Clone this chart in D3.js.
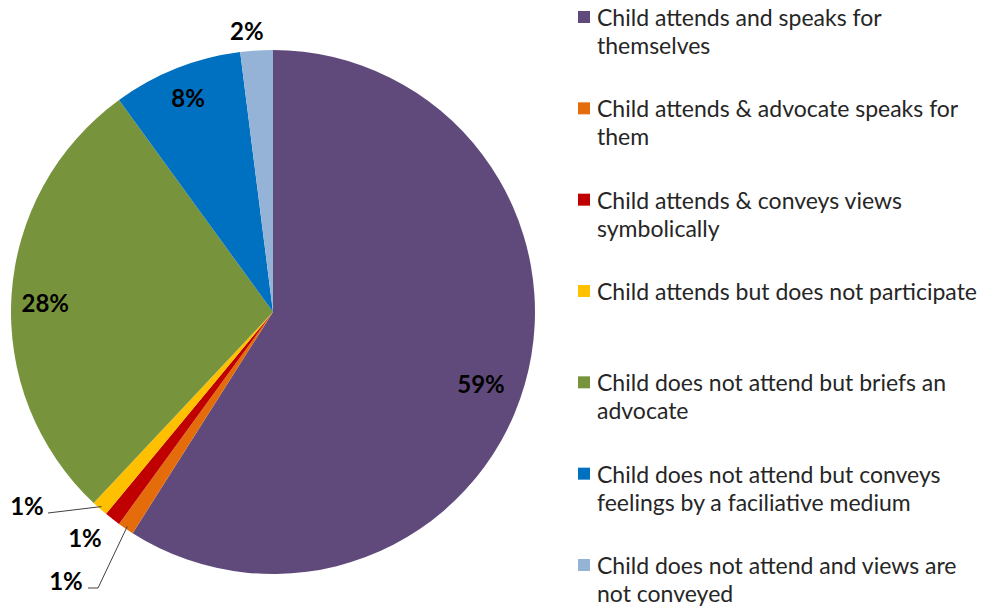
<!DOCTYPE html>
<html>
<head>
<meta charset="utf-8">
<script src="https://cdn.jsdelivr.net/npm/d3@7"></script>
<style>
  html, body { margin: 0; padding: 0; background: #fff; }
  svg { display: block; font-family: Lato, "Open Sans", sans-serif; }
</style>
</head>
<body>
<svg id="chart" width="984" height="607"></svg>
<script>
// Categories, shares (%) and slice colours
const categories = [
  ["Child attends and speaks for", "themselves"],
  ["Child attends & advocate speaks for", "them"],
  ["Child attends & conveys views", "symbolically"],
  ["Child attends but does not participate"],
  ["Child does not attend but briefs an", "advocate"],
  ["Child does not attend but conveys", "feelings by a faciliative medium"],
  ["Child does not attend and views are", "not conveyed"]
];
const shares = [59, 1, 1, 1, 28, 8, 2];
const colors = ["#604A7B", "#E46C0A", "#C00000", "#FFC000", "#77933C", "#0070C0", "#95B3D7"];

const svg = d3.select("#chart");
const cx = 273, cy = 312, R = 262;

const data = shares.map((v, i) => ({ i, value: v, label: categories[i], color: colors[i] }));
const pie = d3.pie().value(d => d.value).sort(null);
const arcs = pie(data);
const arc = d3.arc().innerRadius(0).outerRadius(R);

const g = svg.append("g").attr("transform", `translate(${cx},${cy})`);

g.selectAll("path.slice")
  .data(arcs)
  .join("path")
  .attr("class", "slice")
  .attr("d", arc)
  .attr("fill", d => d.data.color);

// point at a given radius along an angle (d3 angles: 0 = 12 o'clock, clockwise)
const polar = (a, r) => [Math.sin(a) * r, -Math.cos(a) * r];
const mid = d => (d.startAngle + d.endAngle) / 2;
const fmt = d => d.data.value + "%";

// Label placement: inside for large slices, outside for the small ones
const labelPos = [
  d => polar(mid(d) + 0.05, R * 0.84),           // 59%
  d => [-207, 268],                               // 1% orange (bottom)
  d => [-188, 225],                               // 1% red
  d => [-246, 193],                               // 1% yellow (top)
  d => polar(mid(d) - 0.02, R * 0.87),            // 28%
  d => polar(mid(d), R * 0.88),                   // 8%
  d => polar(mid(d) - 0.03, R * 1.08)             // 2%
];

// leader lines for the thin slices
const leaders = [
  { i: 3, pts: d => [[-225, 201], polar(mid(d), R * 0.99)] },
  { i: 1, pts: d => [[-185, 276], [-175, 276], polar(mid(d), R * 0.99)] }
];
leaders.forEach(l => {
  const d = arcs[l.i];
  g.append("path")
    .attr("d", d3.line()(l.pts(d)))
    .attr("fill", "none")
    .attr("stroke", "#404040")
    .attr("stroke-width", 1);
});

g.selectAll("text.pct")
  .data(arcs)
  .join("text")
  .attr("class", "pct")
  .attr("x", d => labelPos[d.index](d)[0])
  .attr("y", d => labelPos[d.index](d)[1])
  .attr("text-anchor", "middle")
  .attr("dominant-baseline", "central")
  .attr("font-size", 24)
  .attr("font-weight", "bold")
  .attr("fill", "#000")
  .text(fmt);

// Legend
const legendY = d3.scalePoint().domain(d3.range(categories.length)).range([17, 565]);
const leg = svg.append("g").attr("class", "legend");
const item = leg.selectAll("g")
  .data(data)
  .join("g")
  .attr("transform", d => `translate(578,${legendY(d.i)})`);

item.append("rect")
  .attr("x", 0).attr("y", -6)
  .attr("width", 12).attr("height", 12)
  .attr("fill", d => d.color);

item.append("text")
  .attr("font-size", 23)
  .attr("fill", "#262626")
  .selectAll("tspan")
  .data(d => d.label)
  .join("tspan")
  .attr("x", 19)
  .attr("y", (t, j) => j * 28)
  .attr("dominant-baseline", "central")
  .text(t => t);
</script>
</body>
</html>
